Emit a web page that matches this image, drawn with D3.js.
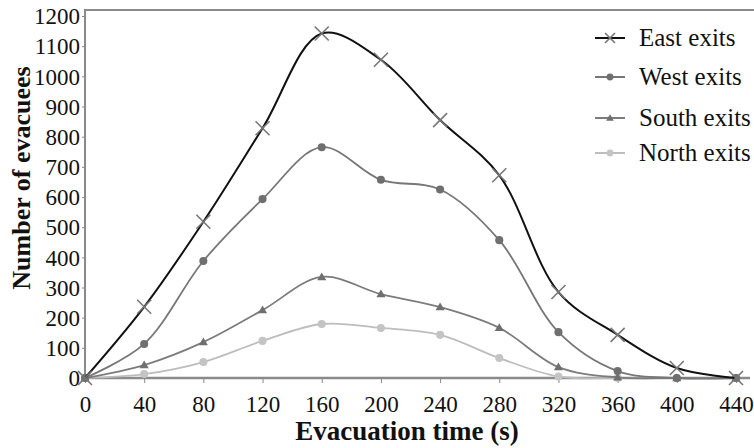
<!DOCTYPE html>
<html lang="en">
<head>
  <meta charset="UTF-8" />
  <title>Evacuees by exit</title>
  <style>
    html, body {
      margin: 0;
      padding: 0;
      background: #fff;
    }
  </style>
</head>
<body>
  <svg id="chart" width="754" height="448"></svg>

  <script src="https://d3js.org/d3.v7.min.js"></script>
  <script>
    // evacuation time (s)
    const times = [0, 40, 80, 120, 160, 200, 240, 280, 320, 360, 400, 440];
    const eastExits  = [0, 236, 518, 828, 1142, 1055, 855, 672, 285, 143, 33, 0];
    const westExits  = [0, 113, 388, 593, 765, 657, 625, 457, 152, 23, 0, 0];
    const southExits = [0, 43, 119, 225, 335, 278, 235, 166, 36, 2, 0, 0];
    const northExits = [0, 13, 53, 123, 179, 166, 143, 66, 5, 0, 0, 0];
    const yTicks = [0, 100, 200, 300, 400, 500, 600, 700, 800, 900, 1000, 1100, 1200];

    const series = [
      { name: "East exits",  values: eastExits,  line: "#111", mark: "#777", shape: "cross" },
      { name: "West exits",  values: westExits,  line: "#777", mark: "#6f6f6f", shape: "circle" },
      { name: "South exits", values: southExits, line: "#7c7c7c", mark: "#6f6f6f", shape: "triangle" },
      { name: "North exits", values: northExits, line: "#bdbdbd", mark: "#c4c4c4", shape: "circle" }
    ];

    const FONT = "'Liberation Serif', 'Times New Roman', serif";
    const svg = d3.select("#chart").attr("font-family", FONT);
    const mLeft = 85, mRight = 736, mTop = 10, mBottom = 378;

    const x = d3.scaleLinear().domain([0, 440]).range([mLeft, mRight]);
    const y = d3.scaleLinear().domain([0, 1200]).range([mBottom, 16]);

    // frame: top border + left axis
    svg.append("line")
      .attr("x1", mLeft).attr("x2", 754).attr("y1", mTop).attr("y2", mTop)
      .attr("stroke", "#8a8a8a").attr("stroke-width", 2);

    const yAxis = svg.append("g")
      .attr("transform", `translate(${mLeft},0)`)
      .call(d3.axisLeft(y).tickValues(yTicks).tickFormat(d3.format("d")).tickSize(3).tickPadding(2));
    yAxis.attr("font-family", FONT).attr("font-size", 23);
    yAxis.select(".domain").remove();
    yAxis.selectAll(".tick line").attr("stroke", "#8a8a8a");
    yAxis.selectAll(".tick text").attr("fill", "#111").attr("dy", "0.34em");
    svg.append("line")
      .attr("x1", mLeft).attr("x2", mLeft).attr("y1", mTop - 1).attr("y2", mBottom + 1)
      .attr("stroke", "#8a8a8a").attr("stroke-width", 2);

    const xAxis = svg.append("g")
      .attr("transform", `translate(0,${mBottom})`)
      .call(d3.axisBottom(x).tickValues(times).tickFormat(d3.format("d")).tickSize(5).tickPadding(13));
    xAxis.attr("font-family", FONT).attr("font-size", 23);
    xAxis.select(".domain").remove();
    xAxis.selectAll(".tick line").attr("stroke", "#8a8a8a");
    xAxis.selectAll(".tick text").attr("fill", "#111");
    svg.append("line")
      .attr("x1", mLeft).attr("x2", 750).attr("y1", mBottom).attr("y2", mBottom)
      .attr("stroke", "#8a8a8a").attr("stroke-width", 2.5);

    // axis titles
    svg.append("text")
      .attr("x", 407).attr("y", 440)
      .attr("text-anchor", "middle")
      .attr("fill", "#111")
      .style("font-size", "27px").style("font-weight", "bold")
      .text("Evacuation time (s)");

    svg.append("text")
      .attr("transform", `translate(30,178) rotate(-90)`)
      .attr("text-anchor", "middle")
      .attr("fill", "#111")
      .style("font-size", "26px").style("font-weight", "bold")
      .text("Number of evacuees");

    const line = d3.line()
      .x((d, i) => x(times[i]))
      .y(d => y(d))
      .curve(d3.curveCatmullRom.alpha(0.5));

    function drawMarker(g, shape, cx, cy, color, size) {
      if (shape === "cross") {
        const s = size;
        g.append("path")
          .attr("d", `M${cx - s},${cy - s}L${cx + s},${cy + s}M${cx - s},${cy + s}L${cx + s},${cy - s}`)
          .attr("stroke", color).attr("stroke-width", 1.6).attr("fill", "none");
      } else if (shape === "circle") {
        g.append("circle").attr("cx", cx).attr("cy", cy).attr("r", size * 0.62).attr("fill", color);
      } else {
        const s = size * 0.7;
        g.append("path")
          .attr("d", `M${cx},${cy - s}L${cx + s},${cy + s * 0.7}L${cx - s},${cy + s * 0.7}Z`)
          .attr("fill", color);
      }
    }

    // draw back to front so east is on top
    series.slice().reverse().forEach(s => {
      const g = svg.append("g");
      g.append("path")
        .datum(s.values)
        .attr("d", line)
        .attr("fill", "none")
        .attr("stroke", s.line)
        .attr("stroke-width", s.shape === "cross" ? 2 : 1.8);
      s.values.forEach((v, i) => {
        drawMarker(g, s.shape, x(times[i]), y(v), s.mark, s.shape === "cross" ? 7 : 6.5);
      });
    });

    // legend
    const legendY = [38, 77, 118, 153];
    series.forEach((s, i) => {
      const g = svg.append("g");
      const ly = legendY[i];
      g.append("line")
        .attr("x1", 595).attr("x2", 625).attr("y1", ly).attr("y2", ly)
        .attr("stroke", s.line).attr("stroke-width", 2);
      if (s.shape === "cross") {
        drawMarker(g, "cross", 610, ly, s.mark, 5);
      } else {
        drawMarker(g, s.shape, 610, ly, s.mark, 5.5);
      }
      g.append("text")
        .attr("x", 639).attr("y", ly).attr("dy", "0.33em")
        .attr("fill", "#111")
        .style("font-size", "25px")
        .text(s.name);
    });
  </script>
</body>
</html>
